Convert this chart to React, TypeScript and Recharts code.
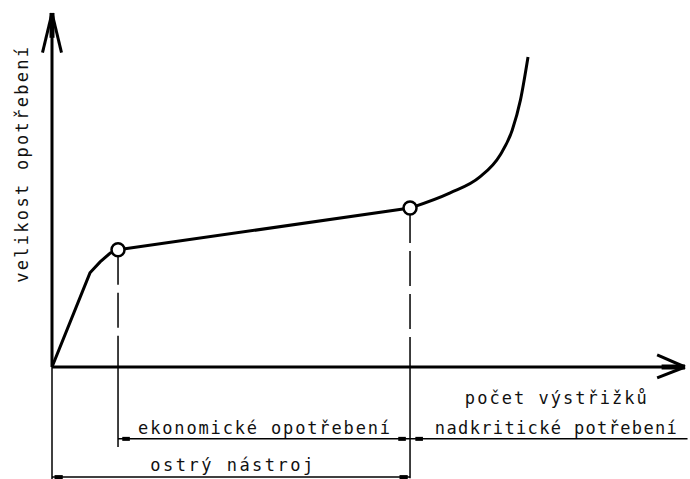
import React from 'react';
import { ComposedChart, Line, XAxis, YAxis, ReferenceLine, ReferenceDot } from 'recharts';

// Wear curve (x: number of blanks, y: wear size), arbitrary units 0..100
const riseX = [0, 6.0, 7.6, 9.2, 10.43];
const riseY = [0, 26.6, 29.7, 32.2, 33.1];
const flatX = [10.43, 56.56];
const flatY = [33.1, 44.9];
const tailX = [56.56, 62.9, 67.6, 70.8, 72.7, 74.0, 75.2];
const tailY = [44.9, 49.2, 53.7, 59.9, 66.9, 75.4, 87.6];
const kneeX = [10.43, 56.56];
const kneeY = [33.1, 44.9];

const yAxisTitle = 'velikost opotřebení';
const xAxisTitle = 'počet výstřižků';
const zoneLabels = ['ekonomické opotřebení', 'nadkritické potřebení', 'ostrý nástroj'];

const zip = (xs: number[], ys: number[]) => xs.map((x, i) => ({ x, y: ys[i] }));
const rise = zip(riseX, riseY);
const flat = zip(flatX, flatY);
const tail = zip(tailX, tailY);
const knees = zip(kneeX, kneeY);

const FONT = '"DejaVu Sans Mono", monospace';

const TextAt = (props: any) => {
  const vb = props.viewBox || {};
  const cx = (vb.x ?? vb.cx ?? 0) + (vb.width || 0) / 2;
  const cy = (vb.y ?? vb.cy ?? 0) + (vb.height || 0) / 2;
  return (
    <text
      x={cx}
      y={cy}
      textAnchor="middle"
      dominantBaseline="central"
      textLength={props.len}
      lengthAdjust="spacing"
      transform={props.rotate ? `rotate(-90 ${cx} ${cy})` : undefined}
      fontFamily={FONT}
      fontSize={17}
      fill="#111"
    >
      {props.txt}
    </text>
  );
};

// annotation layout (data coordinates)
const xK1 = kneeX[0];
const xK2 = kneeX[1];
const yDim1 = -20.3;
const yDim2 = -31.1;

type Seg = { a: [number, number]; b: [number, number]; w: number; dash?: string };
const segs: Seg[] = [
  // axis arrow heads
  { a: [0, 100], b: [-1.5, 88.8], w: 3 },
  { a: [0, 100], b: [1.5, 88.8], w: 3 },
  { a: [0, 100], b: [0, 93], w: 5 },
  { a: [100, 0], b: [95.6, 3.4], w: 3 },
  { a: [100, 0], b: [95.6, -3.1], w: 3 },
  { a: [100, 0], b: [96.3, 0], w: 5 },
  // dashed projections
  { a: [xK1, kneeY[0]], b: [xK1, 0], w: 1.5, dash: '35 8' },
  { a: [xK2, kneeY[1]], b: [xK2, 0], w: 1.5, dash: '35 8' },
  // extension lines
  { a: [0, 0], b: [0, -31.8], w: 1.5 },
  { a: [xK1, 0], b: [xK1, -22.6], w: 1.5 },
  { a: [xK2, 0], b: [xK2, -31.4], w: 1.5 },
  // dimension lines
  { a: [xK1, yDim1], b: [100.4, yDim1], w: 1.5 },
  { a: [0, yDim2], b: [xK2, yDim2], w: 1.5 },
  // dimension arrows
  { a: [11.1, yDim1], b: [12.3, yDim1], w: 4 },
  { a: [54.7, yDim1], b: [55.9, yDim1], w: 4 },
  { a: [57.4, yDim1], b: [58.6, yDim1], w: 4 },
  { a: [0.4, yDim2], b: [1.7, yDim2], w: 4 },
  { a: [54.9, yDim2], b: [56.2, yDim2], w: 4 },
];

const texts = [
  { x: -4.74, y: 57.1, txt: yAxisTitle, len: 236, rotate: true },
  { x: 79.6, y: -8.76, txt: xAxisTitle, len: 182 },
  { x: 33.5, y: -17.2, txt: zoneLabels[0], len: 252 },
  { x: 79.6, y: -17.2, txt: zoneLabels[1], len: 242 },
  { x: 28.4, y: -27.7, txt: zoneLabels[2], len: 163 },
];

export default function App() {
  return (
    <div style={{ position: 'absolute', left: 0, top: 0, background: '#fff' }}>
      <ComposedChart width={690} height={479} margin={{ top: 13, right: 5, bottom: 111, left: 51 }}>
        <XAxis
          dataKey="x"
          type="number"
          domain={[0, 100]}
          allowDataOverflow
          tick={false}
          tickLine={false}
          height={1}
          axisLine={{ stroke: '#000', strokeWidth: 3 }}
        />
        <YAxis
          dataKey="y"
          type="number"
          domain={[0, 100]}
          allowDataOverflow
          tick={false}
          tickLine={false}
          width={1}
          axisLine={{ stroke: '#000', strokeWidth: 3 }}
        />
        {segs.map((s, i) => (
          <ReferenceLine
            key={'s' + i}
            segment={[{ x: s.a[0], y: s.a[1] }, { x: s.b[0], y: s.b[1] }]}
            stroke="#000"
            strokeWidth={s.w}
            strokeDasharray={s.dash}
            ifOverflow="visible"
          />
        ))}
        {texts.map((t, i) => (
          <ReferenceDot
            key={'t' + i}
            x={t.x}
            y={t.y}
            r={0}
            fill="none"
            stroke="none"
            ifOverflow="visible"
            label={<TextAt txt={t.txt} len={t.len} rotate={t.rotate} />}
          />
        ))}
        <Line data={rise} dataKey="y" type="linear" stroke="#000" strokeWidth={3} dot={false} isAnimationActive={false} />
        <Line data={flat} dataKey="y" type="linear" stroke="#000" strokeWidth={3} dot={false} isAnimationActive={false} />
        <Line data={tail} dataKey="y" type="monotone" stroke="#000" strokeWidth={3} dot={false} isAnimationActive={false} />
        <Line
          data={knees}
          dataKey="y"
          type="linear"
          stroke="none"
          dot={{ r: 6.5, fill: '#fff', stroke: '#000', strokeWidth: 2.5 }}
          isAnimationActive={false}
        />
      </ComposedChart>
    </div>
  );
}
